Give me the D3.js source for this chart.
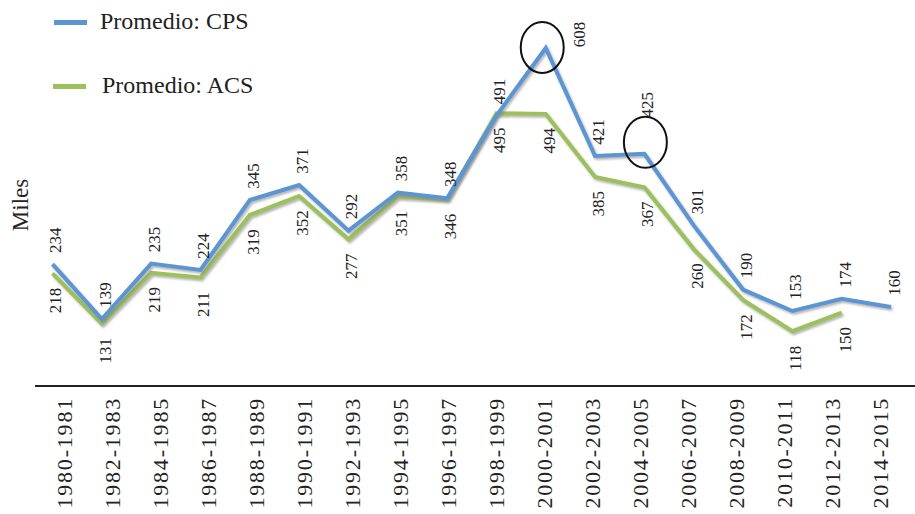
<!DOCTYPE html>
<html>
<head>
<meta charset="utf-8">
<script src="https://cdn.jsdelivr.net/npm/d3@7"></script>
<style>
  html, body { margin: 0; padding: 0; background: #fff; }
  svg { display: block; }
  text { font-family: "Liberation Serif", "Times New Roman", serif; fill: #222; }
</style>
</head>
<body>
<svg id="chart" width="915" height="514"></svg>
<script>
// ---- Data ----
const categories = ["1980-1981","1982-1983","1984-1985","1986-1987","1988-1989","1990-1991",
  "1992-1993","1994-1995","1996-1997","1998-1999","2000-2001","2002-2003","2004-2005",
  "2006-2007","2008-2009","2010-2011","2012-2013","2014-2015"];
const cpsValues = [234,139,235,224,345,371,292,358,348,491,608,421,425,301,190,153,174,160];
const acsValues = [218,131,219,211,319,352,277,351,346,495,494,385,367,260,172,118,150];
const seriesNames = ["Promedio: CPS", "Promedio: ACS"];
const highlighted = ["2000-2001", "2004-2005"];
const yTitle = "Miles";

// ---- Styles ----
const blue = "#5b95d3";
const green = "#9cc15c";

const svg = d3.select("#chart");

const defs = svg.append("defs");
const f = defs.append("filter").attr("id", "shadow")
  .attr("x", "-5%").attr("y", "-5%").attr("width", "110%").attr("height", "120%");
f.append("feDropShadow").attr("dx", 1.5).attr("dy", 2).attr("stdDeviation", 1)
  .attr("flood-color", "#777").attr("flood-opacity", 0.55);

// ---- Scales ----
const x = d3.scalePoint().domain(categories).range([52.5, 891]);
const xLabel = d3.scalePoint().domain(categories).range([64, 880]);
const y = d3.scaleLinear().domain([0, 600]).range([399.4, 52.6]);

// ---- Axis line (category axis) ----
const axisY = 386;
svg.append("line").attr("x1", 35).attr("x2", 915).attr("y1", axisY).attr("y2", axisY)
  .attr("stroke", "#222").attr("stroke-width", 1.8);

// Category tick labels (rotated)
svg.append("g").selectAll("text").data(categories).join("text")
  .attr("transform", d => `translate(${xLabel(d)},${axisY + 11}) rotate(-90)`)
  .attr("text-anchor", "end")
  .attr("dy", "0.35em")
  .style("font-size", "22px")
  .style("letter-spacing", "1.8px")
  .text(d => d);

// Y title
svg.append("text")
  .attr("transform", "translate(20,205) rotate(-90)")
  .attr("text-anchor", "middle")
  .attr("dy", "0.35em")
  .style("font-size", "23px")
  .text(yTitle);

// ---- Lines ----
const line = d3.line().x((d, i) => x(categories[i])).y(d => y(d));

svg.append("path").datum(acsValues)
  .attr("d", line).attr("fill", "none").attr("stroke", green)
  .attr("stroke-width", 4).attr("stroke-linejoin", "miter")
  .attr("filter", "url(#shadow)");
svg.append("path").datum(cpsValues)
  .attr("d", line).attr("fill", "none").attr("stroke", blue)
  .attr("stroke-width", 4).attr("stroke-linejoin", "miter")
  .attr("filter", "url(#shadow)");

// ---- Data labels ----
function labelPos(series, i, v) {
  const cat = categories[i];
  let dx = 3, dyc;
  if (series === "cps") {
    dyc = -24;
    if (cat === "2000-2001") { dx = 33; dyc = -13.5; }
    if (cat === "2004-2005") { dyc = -49; }
  } else {
    dyc = 27;
  }
  return [x(cat) + dx, y(v) + dyc];
}

svg.append("g").selectAll("text").data(cpsValues).join("text")
  .attr("transform", (d, i) => { const p = labelPos("cps", i, d); return `translate(${p[0]},${p[1]}) rotate(-90)`; })
  .attr("text-anchor", "middle").attr("dy", "0.35em")
  .style("font-size", "17px")
  .text(d => d);

svg.append("g").selectAll("text").data(acsValues).join("text")
  .attr("transform", (d, i) => { const p = labelPos("acs", i, d); return `translate(${p[0]},${p[1]}) rotate(-90)`; })
  .attr("text-anchor", "middle").attr("dy", "0.35em")
  .style("font-size", "17px")
  .text(d => d);

// ---- Highlight ellipses ----
const ellipseOffsets = { "2000-2001": [-3.5, -0.5], "2004-2005": [1, -11.5] };
svg.append("g").selectAll("ellipse").data(highlighted).join("ellipse")
  .attr("cx", d => x(d) + ellipseOffsets[d][0])
  .attr("cy", d => y(cpsValues[categories.indexOf(d)]) + ellipseOffsets[d][1])
  .attr("rx", 21.5).attr("ry", 25.5)
  .attr("fill", "none").attr("stroke", "#111").attr("stroke-width", 2);

// ---- Legend ----
const legend = svg.append("g");
const legendItems = [
  { name: seriesNames[0], color: blue, lx: 54, ly: 22.5, tx: 100, ty: 28.5 },
  { name: seriesNames[1], color: green, lx: 53, ly: 86.5, tx: 102, ty: 92.5 }
];
legendItems.forEach(it => {
  legend.append("line").attr("x1", it.lx).attr("x2", it.lx + 33)
    .attr("y1", it.ly).attr("y2", it.ly)
    .attr("stroke", it.color).attr("stroke-width", 5);
  legend.append("text").attr("x", it.tx).attr("y", it.ty)
    .style("font-size", "24px").text(it.name);
});
</script>
</body>
</html>
